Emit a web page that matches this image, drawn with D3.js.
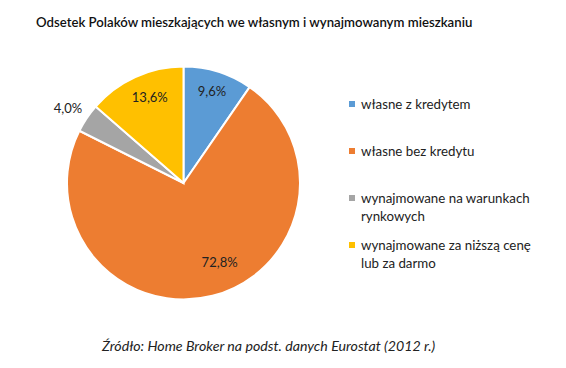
<!DOCTYPE html>
<html><head><meta charset="utf-8">
<script src="https://cdn.jsdelivr.net/npm/d3@7"></script>
<style>body{margin:0;background:#fff}svg{display:block}</style>
</head><body>
<script>
const categories = ["własne z kredytem","własne bez kredytu","wynajmowane na warunkach rynkowych","wynajmowane za niższą cenę lub za darmo"];
const legendLines = [["własne z kredytem"],["własne bez kredytu"],["wynajmowane na warunkach","rynkowych"],["wynajmowane za niższą cenę","lub za darmo"]];
const values = [9.6, 72.8, 4.0, 13.6];
const colors = ["#5B9BD5","#ED7D31","#A5A5A5","#FFC000"];
const title = "Odsetek Polaków mieszkających we własnym i wynajmowanym mieszkaniu";
const source = "Źródło: Home Broker na podst. danych Eurostat (2012 r.)";

const W = 566, H = 368;
const font = "Lato, 'Open Sans', sans-serif";
const svg = d3.select("body").append("svg").attr("width", W).attr("height", H);

svg.append("text").attr("x", 36).attr("y", 27).attr("font-family", font).attr("font-size", 13.2)
  .attr("font-weight", 600).attr("fill", "#111").text(title);

const cx = 183.5, cy = 183, r = 116.5;
const pie = d3.pie().sort(null).value(d => d)(values);
const arc = d3.arc().innerRadius(0).outerRadius(r);
const g = svg.append("g").attr("transform", `translate(${cx},${cy})`);
g.selectAll("path").data(pie).join("path")
  .attr("d", arc).attr("fill", (d, i) => colors[i])
  .attr("stroke", "#fff").attr("stroke-width", 2);

const fmt = v => v.toFixed(1).replace(".", ",") + "%";
// label placement (radius factor, angle shift in degrees) per slice
const labRad = [0.82, 0.75, 1.18, 0.79];
const labShift = [0, -10, -1, 3];
g.selectAll("text.lbl").data(pie).join("text").attr("class", "lbl")
  .attr("transform", (d, i) => {
    const a = (d.startAngle + d.endAngle) / 2 + labShift[i] * Math.PI / 180;
    const rr = r * labRad[i];
    return `translate(${rr * Math.sin(a)},${-rr * Math.cos(a)})`;
  })
  .attr("text-anchor", "middle").attr("dy", "0.35em")
  .attr("font-family", font).attr("font-size", 13).attr("fill", "#222")
  .text(d => fmt(d.data));

const legendY = [104, 151, 198, 245];
const lg = svg.append("g");
legendLines.forEach((lines, i) => {
  lg.append("rect").attr("x", 349).attr("y", legendY[i] - 3).attr("width", 6).attr("height", 6).attr("fill", colors[i]);
  const t = lg.append("text").attr("x", 361).attr("y", legendY[i])
    .attr("font-family", font).attr("font-size", 13.3).attr("fill", "#222");
  lines.forEach((l, j) => t.append("tspan").attr("x", 361).attr("dy", j === 0 ? "0.35em" : 18).text(l));
});

svg.append("text").attr("x", 102).attr("y", 351).attr("font-family", font).attr("font-size", 14.2)
  .attr("font-style", "italic").attr("fill", "#222").text(source);
</script>
</body></html>
